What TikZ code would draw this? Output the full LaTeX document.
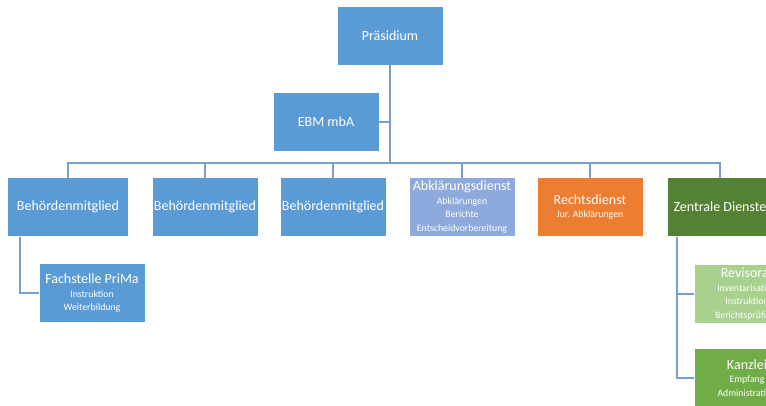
\documentclass[tikz,border=0pt]{standalone}
\usepackage{fontspec}
\setmainfont{Carlito}
\definecolor{orgblue}{RGB}{91,155,213}
\definecolor{orglight}{RGB}{142,169,219}
\definecolor{orgorange}{RGB}{237,125,49}
\definecolor{orggreen}{RGB}{84,130,53}
\definecolor{orgpale}{RGB}{169,209,142}
\definecolor{orgmid}{RGB}{112,173,71}
\definecolor{orgline}{RGB}{120,160,206}
\newcommand{\subtxt}[1]{{\fontsize{9.8}{11}\selectfont #1}}
\tikzset{
  unit/.style={draw=none, fill=orgblue, text=white, minimum width=105pt, minimum height=58pt, inner sep=1pt, align=center, font=\fontsize{14}{13.5}\selectfont},
  conn/.style={draw=orgline, line width=1.8pt}
}

\begin{document}
\begin{tikzpicture}[x=1pt, y=-1pt]
  \clip (0,0) rectangle (766,406);
  \node[unit] (praes) at (390,36) {Präsidium};
  \node[unit] (ebm) at (326,122) {EBM mbA};
  \node[unit, minimum width=120pt] (beh1) at (68,207) {Behördenmitglied};
  \node[unit] (beh2) at (205,207) {Behördenmitglied};
  \node[unit] (beh3) at (333,207) {Behördenmitglied};
  \node[unit, fill=orglight] (abkl) at (462,207) {Abklärungsdienst\\\subtxt{Abklärungen}\\\subtxt{Berichte}\\\subtxt{Entscheidvorbereitung}};
  \node[unit, fill=orgorange] (recht) at (590,207) {Rechtsdienst\\\subtxt{Jur. Abklärungen}};
  \node[unit, fill=orggreen] (zd) at (720,207) {Zentrale Dienste};
  \node[unit] (fach) at (92,293) {Fachstelle PriMa\\\subtxt{Instruktion}\\\subtxt{Weiterbildung}};
  \node[unit, fill=orgpale] (revis) at (747,294) {Revisorat\\\subtxt{Inventarisation}\\\subtxt{Instruktion}\\\subtxt{Berichtsprüfung}};
  \node[unit, fill=orgmid] (kanz) at (747,378) {Kanzlei\\\subtxt{Empfang}\\\subtxt{Administration}};
  % connectors
  \coordinate (bus) at (390,163);
  \coordinate (b1drop) at (20,237);
  \coordinate (zddrop) at (677,237);
  \draw[conn] (praes.south) -- (bus);
  \draw[conn] (ebm.east) -- (ebm.east -| praes.south);
  \foreach \n in {beh1,beh2,beh3,abkl,recht,zd}
    \draw[conn] (bus) -| (\n.north);
  \draw[conn] (b1drop) |- (fach.west);
  \draw[conn] (zddrop) |- (revis.west);
  \draw[conn] (zddrop) |- (kanz.west);
\end{tikzpicture}
\end{document}
